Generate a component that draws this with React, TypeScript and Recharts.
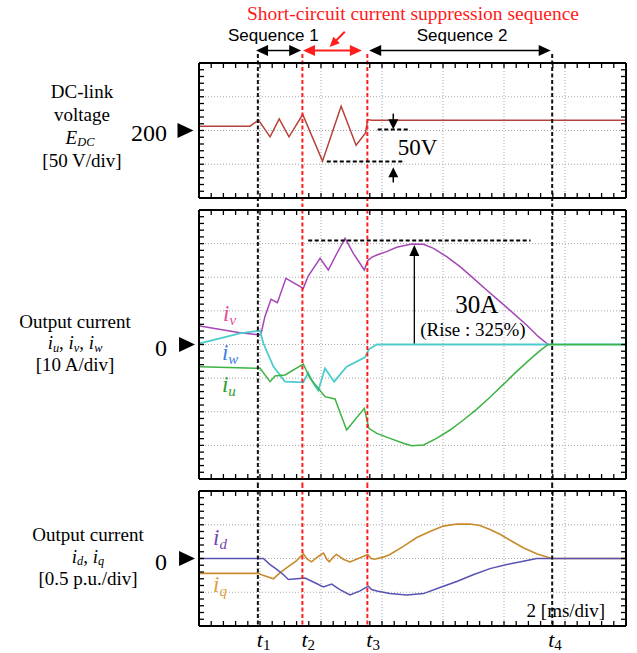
import React from 'react';
import { LineChart, Line, XAxis, YAxis, ReferenceLine, ReferenceDot } from 'recharts';

// ---------------- data ----------------
const timeDomain: [number, number] = [0, 14]; // ms (2 ms/div, 7 div)
const timeGrid = [2, 4, 6, 8, 10, 12];
const markerTimes = [1.93, 3.39, 5.52, 11.58]; // t1..t4
const markerColors = ['#111111', '#ff1e1e', '#ff1e1e', '#111111'];
const markerNames = ['1', '2', '3', '4'];
const markerLabelShift = [0, 0, 0, -3];

const seqArrows = [
  { from: 1.87, to: 3.35, color: '#000000' },
  { from: 3.41, to: 5.34, color: '#ff1e1e' },
  { from: 5.58, to: 11.53, color: '#000000' },
];

// DC-link voltage [V]
const edcDomain: [number, number] = [100, 300];
const edcGrid = [150, 200, 250];
const edcData = [
  { t: 0, v: 206.4 },
  { t: 1.67, v: 206.4 },
  { t: 1.95, v: 215.3 },
  { t: 2.33, v: 190.6 },
  { t: 2.63, v: 217.3 },
  { t: 2.95, v: 190.6 },
  { t: 3.4, v: 223.7 },
  { t: 4.05, v: 154.6 },
  { t: 4.66, v: 236.0 },
  { t: 5.15, v: 178.3 },
  { t: 5.46, v: 196.5 },
  { t: 5.53, v: 216.3 },
  { t: 5.66, v: 215.3 },
  { t: 14, v: 215.3 },
];

// Output currents [A]
const iuvwDomain: [number, number] = [-40, 40];
const iuvwGrid = [-30, -20, -10, 0, 10, 20, 30];
const ivData = [
  { t: 0.03, v: 5.5 }, { t: 1.34, v: 3.52 }, { t: 2.0, v: 2.83 }, { t: 2.05, v: 3.82 },
  { t: 2.16, v: 8.28 }, { t: 2.36, v: 13.43 }, { t: 2.57, v: 12.44 }, { t: 2.85, v: 19.68 },
  { t: 3.42, v: 16.7 }, { t: 3.58, v: 20.37 }, { t: 3.97, v: 25.63 }, { t: 4.24, v: 22.16 },
  { t: 4.51, v: 26.91 }, { t: 4.79, v: 31.57 }, { t: 5.06, v: 27.11 }, { t: 5.42, v: 22.16 },
  { t: 5.53, v: 24.93 }, { t: 5.66, v: 25.92 }, { t: 5.83, v: 26.62 }, { t: 6.15, v: 27.61 },
  { t: 6.48, v: 28.9 }, { t: 6.97, v: 29.89 }, { t: 7.36, v: 29.79 }, { t: 7.69, v: 28.6 },
  { t: 8.12, v: 26.12 }, { t: 8.56, v: 23.15 }, { t: 9.0, v: 19.68 }, { t: 9.43, v: 16.21 },
  { t: 9.87, v: 12.74 }, { t: 10.31, v: 9.27 }, { t: 10.74, v: 5.8 }, { t: 11.13, v: 2.33 },
  { t: 11.45, v: 0 },
];
const iwData = [
  { t: 0.03, v: 0.35 }, { t: 1.34, v: 3.32 }, { t: 2.0, v: 4.11 }, { t: 2.11, v: 0.35 },
  { t: 2.44, v: -6.59 }, { t: 2.82, v: -11.05 }, { t: 3.42, v: -11.25 }, { t: 3.58, v: -8.38 },
  { t: 3.75, v: -11.55 }, { t: 3.91, v: -13.73 }, { t: 4.13, v: -7.09 }, { t: 4.43, v: -11.05 },
  { t: 4.84, v: -6.59 }, { t: 5.44, v: -3.82 }, { t: 5.57, v: -1.44 }, { t: 5.83, v: 0 },
  { t: 14, v: 0 },
];
const iuData = [
  { t: 0.03, v: -6.59 }, { t: 2.0, v: -7.09 }, { t: 2.33, v: -11.05 }, { t: 2.49, v: -9.37 },
  { t: 2.82, v: -9.07 }, { t: 3.42, v: -5.8 }, { t: 3.64, v: -10.06 }, { t: 3.91, v: -13.04 },
  { t: 4.13, v: -15.51 }, { t: 4.46, v: -16.21 }, { t: 4.84, v: -25.43 }, { t: 5.42, v: -18.98 },
  { t: 5.57, v: -24.93 }, { t: 5.83, v: -26.42 }, { t: 6.26, v: -27.91 }, { t: 6.7, v: -29.39 },
  { t: 6.97, v: -30.09 }, { t: 7.36, v: -29.89 }, { t: 7.79, v: -27.91 }, { t: 8.23, v: -25.43 },
  { t: 8.67, v: -22.45 }, { t: 9.1, v: -19.28 }, { t: 9.54, v: -15.71 }, { t: 9.98, v: -11.85 },
  { t: 10.41, v: -8.08 }, { t: 10.85, v: -4.41 }, { t: 11.18, v: -1.83 }, { t: 11.45, v: 0 },
  { t: 14, v: 0 },
];

// dq currents [p.u.]
const idqDomain: [number, number] = [-1, 1];
const idqGrid = [-0.5, 0, 0.5];
const iqData = [
  { t: 0.03, v: -0.22 }, { t: 1.95, v: -0.22 }, { t: 2.05, v: -0.24 }, { t: 2.44, v: -0.3 },
  { t: 2.66, v: -0.21 }, { t: 2.87, v: -0.14 }, { t: 3.2, v: -0.03 }, { t: 3.42, v: 0.07 },
  { t: 3.55, v: -0.01 }, { t: 3.69, v: -0.05 }, { t: 3.91, v: 0.03 }, { t: 4.08, v: 0.08 },
  { t: 4.19, v: -0.01 }, { t: 4.27, v: -0.05 }, { t: 4.4, v: 0.02 }, { t: 4.51, v: 0.06 },
  { t: 4.73, v: -0.01 }, { t: 4.95, v: -0.05 }, { t: 5.28, v: 0.01 }, { t: 5.53, v: 0.06 },
  { t: 5.64, v: 0.0 }, { t: 5.75, v: -0.01 }, { t: 6.04, v: 0.02 }, { t: 6.26, v: 0.06 },
  { t: 6.7, v: 0.18 }, { t: 7.14, v: 0.31 }, { t: 7.57, v: 0.4 }, { t: 8.01, v: 0.48 },
  { t: 8.45, v: 0.51 }, { t: 8.89, v: 0.51 }, { t: 9.21, v: 0.49 }, { t: 9.54, v: 0.43 },
  { t: 9.87, v: 0.36 }, { t: 10.2, v: 0.27 }, { t: 10.63, v: 0.16 }, { t: 11.07, v: 0.07 },
  { t: 11.56, v: 0.0 }, { t: 14, v: 0.0 },
];
const idData = [
  { t: 0.03, v: 0 }, { t: 2.11, v: 0 }, { t: 2.33, v: -0.09 }, { t: 2.55, v: -0.16 },
  { t: 2.77, v: -0.24 }, { t: 2.93, v: -0.31 }, { t: 3.2, v: -0.3 }, { t: 3.48, v: -0.29 },
  { t: 3.8, v: -0.36 }, { t: 4.08, v: -0.42 }, { t: 4.35, v: -0.38 }, { t: 4.62, v: -0.46 },
  { t: 4.95, v: -0.54 }, { t: 5.28, v: -0.48 }, { t: 5.55, v: -0.41 }, { t: 5.66, v: -0.46 },
  { t: 5.83, v: -0.48 }, { t: 6.26, v: -0.52 }, { t: 6.81, v: -0.54 }, { t: 7.36, v: -0.52 },
  { t: 7.9, v: -0.43 }, { t: 8.45, v: -0.34 }, { t: 8.99, v: -0.24 }, { t: 9.54, v: -0.15 },
  { t: 10.09, v: -0.09 }, { t: 10.63, v: -0.04 }, { t: 11.07, v: 0.0 }, { t: 11.56, v: 0 },
  { t: 14, v: 0 },
];

// ---------------- style ----------------
const SERIF = '"Liberation Serif", "Times New Roman", serif';
const SANS = '"Liberation Sans", Arial, sans-serif';
const GRID = '#a9a9a9';
const C_EDC = '#b6423c';
const C_IV = '#a646b6';
const C_IW = '#4ecbcc';
const C_IU = '#3db344';
const C_IQ = '#c98a2c';
const C_ID = '#5753b3';

function ticksBetween(a: number, b: number, step: number) {
  const n = Math.round((b - a) / step);
  return Array.from({ length: n + 1 }, (_, i) => +(a + i * step).toFixed(3));
}
const timeMinor = ticksBetween(0, 14, 0.4);
const edcMinor = ticksBetween(100, 300, 10);
const iuvwMinor = ticksBetween(-40, 40, 2);
const idqMinor = ticksBetween(-1, 1, 0.1);

const emptyTick = () => <g />;

function frameAxes(yDomain: [number, number], yTicks: number[]) {
  const axisLine = { stroke: '#000', strokeWidth: 2 };
  const tickLine = { stroke: '#000', strokeWidth: 1.3 };
  const common = { tick: emptyTick, tickSize: 5, tickMargin: 0, axisLine, tickLine, allowDataOverflow: true, interval: 0 as const, mirror: true };
  return [
    <XAxis key="xb" xAxisId={0} type="number" dataKey="t" domain={timeDomain} ticks={timeMinor} orientation="bottom" height={1} {...common} />,
    <XAxis key="xt" xAxisId="top" type="number" dataKey="t" domain={timeDomain} ticks={timeMinor} orientation="top" height={1} {...common} />,
    <YAxis key="yl" yAxisId={0} type="number" domain={yDomain} ticks={yTicks} orientation="left" width={1} {...common} />,
    <YAxis key="yr" yAxisId="right" type="number" domain={yDomain} ticks={yTicks} orientation="right" width={1} {...common} />,
  ];
}

function gridLines(yGrid: number[]) {
  return [
    ...timeGrid.map((g) => (
      <ReferenceLine key={'gx' + g} x={g} stroke={GRID} strokeWidth={1} strokeDasharray="1 2" />
    )),
    ...yGrid.map((g) => (
      <ReferenceLine key={'gy' + g} y={g} stroke={GRID} strokeWidth={1} strokeDasharray="1 2" />
    )),
  ];
}

function markerLines(yTop: number, yBottom: number) {
  return markerTimes.map((t, i) => (
    <ReferenceLine
      key={'m' + i}
      segment={[{ x: t, y: yTop }, { x: t, y: yBottom }]}
      stroke={markerColors[i]}
      strokeWidth={2}
      strokeDasharray="4 2.5"
      ifOverflow="visible"
    />
  ));
}

function arrowShape(color: string, both: boolean, len: number, half: number, sw: number) {
  return (p: any) => {
    const x1 = Number(p.x1), y1 = Number(p.y1), x2 = Number(p.x2), y2 = Number(p.y2);
    const dx = x2 - x1, dy = y2 - y1;
    const L = Math.hypot(dx, dy) || 1;
    const ux = dx / L, uy = dy / L, nx = -uy, ny = ux;
    const head = (tx: number, ty: number, sx: number, sy: number) => {
      const bx = tx - sx * len, by = ty - sy * len;
      return `${tx},${ty} ${bx + nx * half},${by + ny * half} ${bx - nx * half},${by - ny * half}`;
    };
    const sx1 = both ? x1 + ux * len * 0.9 : x1;
    const sy1 = both ? y1 + uy * len * 0.9 : y1;
    const ex = x2 - ux * len * 0.9, ey = y2 - uy * len * 0.9;
    return (
      <g>
        <line x1={sx1} y1={sy1} x2={ex} y2={ey} stroke={color} strokeWidth={sw} />
        {both && <polygon points={head(x1, y1, -ux, -uy)} fill={color} />}
        <polygon points={head(x2, y2, ux, uy)} fill={color} />
      </g>
    );
  };
}

const noDot = () => <g />;
const triangle = (p: any) => {
  const cx = Number(p.cx), cy = Number(p.cy);
  return <polygon points={`${cx},${cy} ${cx - 16},${cy - 7.5} ${cx - 16},${cy + 7.5}`} fill="#000" />;
};

function svgLabel(render: (x: number, y: number) => React.ReactElement) {
  return (props: any) => {
    const vb = props.viewBox || {};
    return render(Number(vb.x ?? 0), Number(vb.y ?? 0));
  };
}

function textDot(key: string, x: number, y: number, render: (x: number, y: number) => React.ReactElement) {
  return <ReferenceDot key={key} x={x} y={y} r={0} ifOverflow="visible" shape={noDot} label={svgLabel(render)} />;
}

function subLabel(main: string, sub: string, color: string, size = 23, subSize = 15) {
  return (x: number, y: number) => (
    <text x={x} y={y} fill={color} fontFamily={SERIF} fontSize={size} fontStyle="italic">
      {main}
      <tspan fontSize={subSize} dy={4} fontStyle="italic">{sub}</tspan>
    </text>
  );
}

// ---------------- HTML text ----------------
function HText({ x, base, size, color = '#000', font = SERIF, anchor = 'start', children }: any) {
  const asc = font === SANS ? 0.8465 : 0.8375;
  const top = base - asc * size;
  const common: React.CSSProperties = {
    position: 'absolute', top, fontSize: size, lineHeight: 1, color, fontFamily: font, whiteSpace: 'nowrap',
  };
  if (anchor === 'middle') return <div style={{ ...common, left: x - 150, width: 300, textAlign: 'center' }}>{children}</div>;
  if (anchor === 'end') return <div style={{ ...common, left: x - 300, width: 300, textAlign: 'right' }}>{children}</div>;
  return <div style={{ ...common, left: x }}>{children}</div>;
}
const Sub = ({ children }: any) => (
  <span style={{ fontSize: '0.65em', position: 'relative', top: '0.18em', fontStyle: 'italic', lineHeight: 1 }}>{children}</span>
);

const CHART_W = 637;
const MARGIN_X = { left: 199, right: 11 };

export default function App() {
  return (
    <div style={{ position: 'absolute', left: 0, top: 0, width: 637, height: 653, background: '#fff', overflow: 'hidden', fontFamily: SERIF }}>
      {/* header */}
      <HText x={247} base={20.7} size={19.5} color="#ff1a1a">Short-circuit current suppression sequence</HText>
      <HText x={228} base={41.7} size={17} font={SANS}>Sequence 1</HText>
      <HText x={416.7} base={41.7} size={17} font={SANS}>Sequence 2</HText>

      {/* left labels panel 1 */}
      <HText x={82} base={97.5} size={19} anchor="middle">DC-link</HText>
      <HText x={82} base={121} size={19} anchor="middle">voltage</HText>
      <HText x={80} base={143.5} size={19} anchor="middle"><i>E</i><Sub>DC</Sub></HText>
      <HText x={82} base={167} size={19} anchor="middle">[50 V/div]</HText>
      <HText x={167} base={141.5} size={24} anchor="end">200</HText>

      {/* left labels panel 2 */}
      <HText x={75} base={328} size={19} anchor="middle">Output current</HText>
      <HText x={75} base={349.2} size={19} anchor="middle">
        <i>i</i><Sub>u</Sub>, <i>i</i><Sub>v</Sub>, <i>i</i><Sub>w</Sub>
      </HText>
      <HText x={75} base={371.2} size={19} anchor="middle">[10 A/div]</HText>
      <HText x={167} base={356.5} size={24} anchor="end">0</HText>

      {/* left labels panel 3 */}
      <HText x={88} base={541} size={19} anchor="middle">Output current</HText>
      <HText x={88} base={562.5} size={19} anchor="middle">
        <i>i</i><Sub>d</Sub>, <i>i</i><Sub>q</Sub>
      </HText>
      <HText x={88} base={585} size={19} anchor="middle">[0.5 p.u./div]</HText>
      <HText x={167} base={570} size={24} anchor="end">0</HText>

      {/* panel 1: DC-link voltage */}
      <div style={{ position: 'absolute', left: 0, top: 0 }}>
        <LineChart width={CHART_W} height={204} margin={{ top: 63, bottom: 6, ...MARGIN_X }}>
          {frameAxes(edcDomain, edcMinor)}
          {gridLines(edcGrid)}
          <Line data={edcData} dataKey="v" type="linear" stroke={C_EDC} strokeWidth={1.5} dot={false} activeDot={false} isAnimationActive={false} />
          {markerLines(313.5, 89.5)}
          {seqArrows.map((a, i) => (
            <ReferenceLine key={'sa' + i} segment={[{ x: a.from, y: 318.5 }, { x: a.to, y: 318.5 }]} ifOverflow="visible"
              shape={arrowShape(a.color, true, 12, 5.5, a.color === '#000000' ? 1.5 : 2)} />
          ))}
          <ReferenceLine segment={[{ x: 4.78, y: 346.2 }, { x: 4.28, y: 323.6 }]} ifOverflow="visible"
            shape={arrowShape('#ff1e1e', false, 10, 4.5, 2)} />
          <ReferenceLine segment={[{ x: 5.86, y: 201.5 }, { x: 6.85, y: 201.5 }]} stroke="#000" strokeWidth={2} strokeDasharray="4 2.5" ifOverflow="visible" />
          <ReferenceLine segment={[{ x: 4.19, y: 154 }, { x: 6.75, y: 154 }]} stroke="#000" strokeWidth={2} strokeDasharray="4 2.5" ifOverflow="visible" />
          <ReferenceLine segment={[{ x: 6.37, y: 225 }, { x: 6.37, y: 202 }]} ifOverflow="visible" shape={arrowShape('#000', false, 10, 5, 1.5)} />
          <ReferenceLine segment={[{ x: 6.37, y: 123 }, { x: 6.37, y: 145.5 }]} ifOverflow="visible" shape={arrowShape('#000', false, 10, 5, 1.5)} />
          {textDot('l50', 6.52, 164, (x, y) => (
            <text x={x} y={y} fontFamily={SERIF} fontSize={23} fill="#000">50V</text>
          ))}
          <ReferenceDot x={-0.18} y={200} r={0} ifOverflow="visible" shape={triangle} />
        </LineChart>
      </div>

      {/* panel 2: phase currents */}
      <div style={{ position: 'absolute', left: 0, top: 204 }}>
        <LineChart width={CHART_W} height={281} margin={{ top: 6, bottom: 6, ...MARGIN_X }}>
          {frameAxes(iuvwDomain, iuvwMinor)}
          {gridLines(iuvwGrid)}
          <Line data={ivData} dataKey="v" type="linear" stroke={C_IV} strokeWidth={1.5} dot={false} activeDot={false} isAnimationActive={false} />
          <Line data={iwData} dataKey="v" type="linear" stroke={C_IW} strokeWidth={1.8} dot={false} activeDot={false} isAnimationActive={false} />
          <Line data={iuData} dataKey="v" type="linear" stroke={C_IU} strokeWidth={1.5} dot={false} activeDot={false} isAnimationActive={false} />
          {markerLines(42.1, -42.1)}
          <ReferenceLine segment={[{ x: 3.58, y: 30.9 }, { x: 10.87, y: 30.9 }]} stroke="#000" strokeWidth={2} strokeDasharray="4 2.5" ifOverflow="visible" />
          <ReferenceLine segment={[{ x: 7.06, y: 0.3 }, { x: 7.06, y: 29.6 }]} ifOverflow="visible" shape={arrowShape('#000', false, 11, 5, 1.3)} />
          {textDot('l30', 8.4, 9.5, (x, y) => (
            <text x={x} y={y} fontFamily={SERIF} fontSize={25} fill="#000">30A</text>
          ))}
          {textDot('lrise', 7.25, 2.5, (x, y) => (
            <text x={x} y={y} fontFamily={SERIF} fontSize={19} fill="#000">(Rise : 325%)</text>
          ))}
          {textDot('liv', 0.79, 7.1, subLabel('i', 'v', '#e64b9c'))}
          {textDot('liw', 0.75, -4.6, subLabel('i', 'w', '#3d7ee6'))}
          {textDot('liu', 0.75, -14.2, subLabel('i', 'u', '#2e9c2e'))}
          <ReferenceDot x={-0.13} y={0} r={0} ifOverflow="visible" shape={triangle} />
        </LineChart>
      </div>

      {/* panel 3: dq currents */}
      <div style={{ position: 'absolute', left: 0, top: 485 }}>
        <LineChart width={CHART_W} height={168} margin={{ top: 6, bottom: 27, ...MARGIN_X }}>
          {frameAxes(idqDomain, idqMinor)}
          {gridLines(idqGrid)}
          <Line data={iqData} dataKey="v" type="linear" stroke={C_IQ} strokeWidth={1.6} dot={false} activeDot={false} isAnimationActive={false} />
          <Line data={idData} dataKey="v" type="linear" stroke={C_ID} strokeWidth={1.5} dot={false} activeDot={false} isAnimationActive={false} />
          {markerLines(1.105, -1)}
          {textDot('lid', 0.46, 0.2, subLabel('i', 'd', '#7444b4'))}
          {textDot('liq', 0.46, -0.5, subLabel('i', 'q', '#dca23a'))}
          {textDot('lms', 10.74, -0.87, (x, y) => (
            <text x={x} y={y} fontFamily={SERIF} fontSize={19} fill="#000">2 [ms/div]</text>
          ))}
          {markerTimes.map((t, i) =>
            textDot('tl' + i, t, -1.31, (x, y) => (
              <text x={x - 1 + markerLabelShift[i]} y={y} fontFamily={SERIF} fontSize={22} fontStyle="italic" fill="#000">
                t<tspan fontSize={15} dy={3.5} fontStyle="normal">{markerNames[i]}</tspan>
              </text>
            ))
          )}
          <ReferenceDot x={-0.13} y={0} r={0} ifOverflow="visible" shape={triangle} />
        </LineChart>
      </div>
    </div>
  );
}
